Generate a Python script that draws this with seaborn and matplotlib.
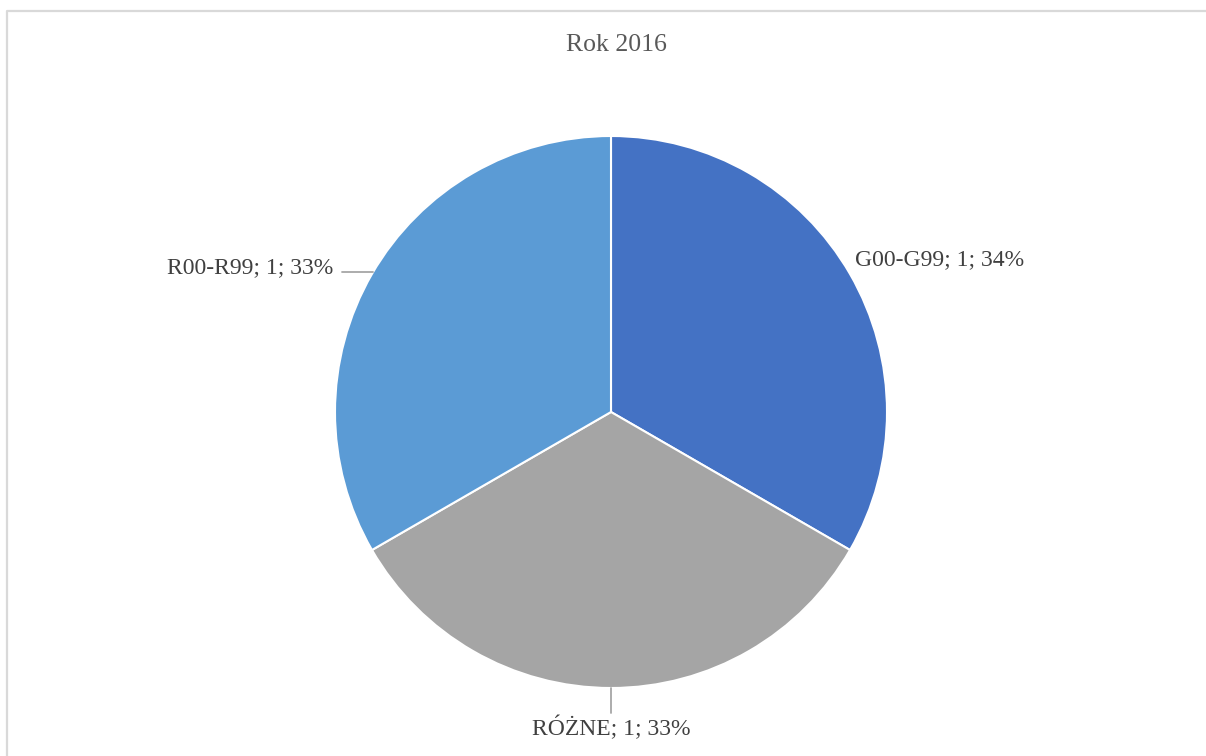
import numpy as np
import seaborn as sns
import matplotlib.pyplot as plt
from matplotlib.lines import Line2D

# dane
kategorie = ["G00-G99", "RÓŻNE", "R00-R99"]
wartosci = [1, 1, 1]
procenty = ["34%", "33%", "33%"]
kolory = ["#4472C4", "#A5A5A5", "#5B9BD5"]
tytul = "Rok 2016"

sns.set_theme(style="white")
plt.rcParams['font.family'] = ['Liberation Serif', 'DejaVu Serif']

W, H = 1206, 756
fig = plt.figure(figsize=(W / 100, H / 100), dpi=100)
fig.patch.set_facecolor("white")

# ramka wykresu - tylko gorna i lewa krawedz widoczna w kadrze
xr, yr = 7 / W, 1 - 11 / H
fig.add_artist(Line2D([xr, xr, 1.0], [0.0, yr, yr], transform=fig.transFigure,
                      color="#D9D9D9", linewidth=1.6))

# os kola: srodek (611, 412), promien 276 px
cx, cy, r = 611, 412, 276
ax = fig.add_axes([(cx - r) / W, (H - cy - r) / H, 2 * r / W, 2 * r / H])
wedges, _ = ax.pie(wartosci, colors=kolory, startangle=90, counterclock=False,
                   wedgeprops=dict(edgecolor="white", linewidth=1.5))
ax.set_xlim(-1, 1)
ax.set_ylim(-1, 1)
ax.set_aspect("equal")
ax.axis("off")

etykiety = [f"{k}; {v}; {p}" for k, v, p in zip(kategorie, wartosci, procenty)]
kol_tekstu = "#404040"
fs = 17

# G00-G99 - bez linii odniesienia
ax.text(0.884, 0.551, etykiety[0], ha="left", va="center",
        fontsize=fs, color=kol_tekstu, clip_on=False)

# RÓŻNE - pionowa linia odniesienia
ax.plot([0, 0], [-1.0, -1.09], color="#A6A6A6", lw=1.3, clip_on=False)
ax.text(0, -1.145, etykiety[1], ha="center", va="center",
        fontsize=fs, color=kol_tekstu, clip_on=False)

# R00-R99 - pozioma linia odniesienia
yl = 0.507
ax.plot([-np.sqrt(1 - yl ** 2), -0.975], [yl, yl], color="#A6A6A6",
        lw=1.3, clip_on=False)
ax.text(-1.007, 0.522, etykiety[2], ha="right", va="center",
        fontsize=fs, color=kol_tekstu, clip_on=False)

fig.text(616 / W, 1 - 45 / H, tytul, ha="center", va="center",
         fontsize=18.5, color="#595959")

fig.savefig("out.png", dpi=100, facecolor="white")
